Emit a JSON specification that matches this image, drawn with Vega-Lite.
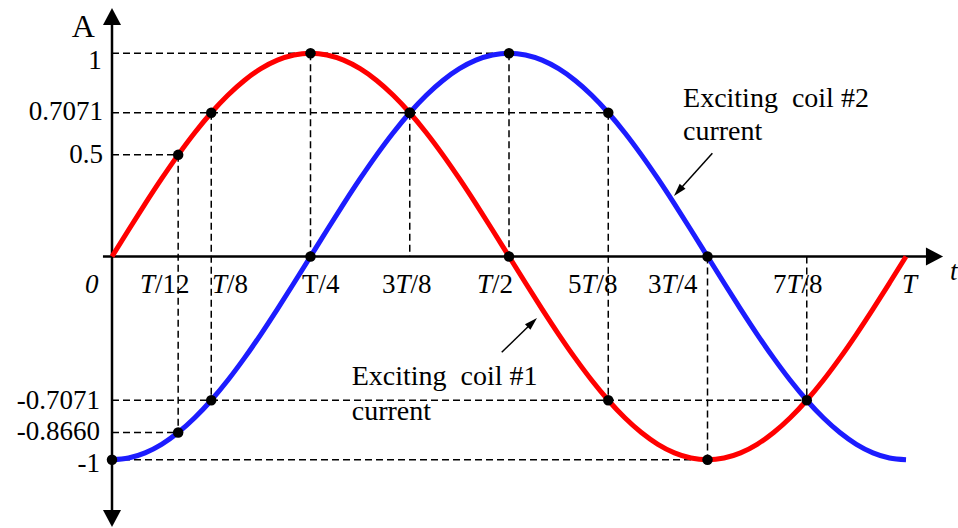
{
  "$schema": "https://vega.github.io/schema/vega-lite/v6.json",
  "width": 958,
  "height": 528,
  "autosize": {"type": "fit", "contains": "padding"},
  "padding": 0,
  "background": "white",
  "config": {"view": {"stroke": null}},
  "datasets": {
    "curves": [
      {"t": 0, "v": 0, "s": "coil1"}, {"t": 7.5, "v": 0.1305, "s": "coil1"}, {"t": 15, "v": 0.2588, "s": "coil1"}, {"t": 22.5, "v": 0.3827, "s": "coil1"},
      {"t": 30, "v": 0.5, "s": "coil1"}, {"t": 37.5, "v": 0.6088, "s": "coil1"}, {"t": 45, "v": 0.7071, "s": "coil1"}, {"t": 52.5, "v": 0.7934, "s": "coil1"},
      {"t": 60, "v": 0.866, "s": "coil1"}, {"t": 67.5, "v": 0.9239, "s": "coil1"}, {"t": 75, "v": 0.9659, "s": "coil1"}, {"t": 82.5, "v": 0.9914, "s": "coil1"},
      {"t": 90, "v": 1, "s": "coil1"}, {"t": 97.5, "v": 0.9914, "s": "coil1"}, {"t": 105, "v": 0.9659, "s": "coil1"}, {"t": 112.5, "v": 0.9239, "s": "coil1"},
      {"t": 120, "v": 0.866, "s": "coil1"}, {"t": 127.5, "v": 0.7934, "s": "coil1"}, {"t": 135, "v": 0.7071, "s": "coil1"}, {"t": 142.5, "v": 0.6088, "s": "coil1"},
      {"t": 150, "v": 0.5, "s": "coil1"}, {"t": 157.5, "v": 0.3827, "s": "coil1"}, {"t": 165, "v": 0.2588, "s": "coil1"}, {"t": 172.5, "v": 0.1305, "s": "coil1"},
      {"t": 180, "v": 0, "s": "coil1"}, {"t": 187.5, "v": -0.1305, "s": "coil1"}, {"t": 195, "v": -0.2588, "s": "coil1"}, {"t": 202.5, "v": -0.3827, "s": "coil1"},
      {"t": 210, "v": -0.5, "s": "coil1"}, {"t": 217.5, "v": -0.6088, "s": "coil1"}, {"t": 225, "v": -0.7071, "s": "coil1"}, {"t": 232.5, "v": -0.7934, "s": "coil1"},
      {"t": 240, "v": -0.866, "s": "coil1"}, {"t": 247.5, "v": -0.9239, "s": "coil1"}, {"t": 255, "v": -0.9659, "s": "coil1"}, {"t": 262.5, "v": -0.9914, "s": "coil1"},
      {"t": 270, "v": -1, "s": "coil1"}, {"t": 277.5, "v": -0.9914, "s": "coil1"}, {"t": 285, "v": -0.9659, "s": "coil1"}, {"t": 292.5, "v": -0.9239, "s": "coil1"},
      {"t": 300, "v": -0.866, "s": "coil1"}, {"t": 307.5, "v": -0.7934, "s": "coil1"}, {"t": 315, "v": -0.7071, "s": "coil1"}, {"t": 322.5, "v": -0.6088, "s": "coil1"},
      {"t": 330, "v": -0.5, "s": "coil1"}, {"t": 337.5, "v": -0.3827, "s": "coil1"}, {"t": 345, "v": -0.2588, "s": "coil1"}, {"t": 352.5, "v": -0.1305, "s": "coil1"},
      {"t": 360, "v": 0, "s": "coil1"},
      {"t": 0, "v": -1, "s": "coil2"}, {"t": 7.5, "v": -0.9914, "s": "coil2"}, {"t": 15, "v": -0.9659, "s": "coil2"}, {"t": 22.5, "v": -0.9239, "s": "coil2"},
      {"t": 30, "v": -0.866, "s": "coil2"}, {"t": 37.5, "v": -0.7934, "s": "coil2"}, {"t": 45, "v": -0.7071, "s": "coil2"}, {"t": 52.5, "v": -0.6088, "s": "coil2"},
      {"t": 60, "v": -0.5, "s": "coil2"}, {"t": 67.5, "v": -0.3827, "s": "coil2"}, {"t": 75, "v": -0.2588, "s": "coil2"}, {"t": 82.5, "v": -0.1305, "s": "coil2"},
      {"t": 90, "v": 0, "s": "coil2"}, {"t": 97.5, "v": 0.1305, "s": "coil2"}, {"t": 105, "v": 0.2588, "s": "coil2"}, {"t": 112.5, "v": 0.3827, "s": "coil2"},
      {"t": 120, "v": 0.5, "s": "coil2"}, {"t": 127.5, "v": 0.6088, "s": "coil2"}, {"t": 135, "v": 0.7071, "s": "coil2"}, {"t": 142.5, "v": 0.7934, "s": "coil2"},
      {"t": 150, "v": 0.866, "s": "coil2"}, {"t": 157.5, "v": 0.9239, "s": "coil2"}, {"t": 165, "v": 0.9659, "s": "coil2"}, {"t": 172.5, "v": 0.9914, "s": "coil2"},
      {"t": 180, "v": 1, "s": "coil2"}, {"t": 187.5, "v": 0.9914, "s": "coil2"}, {"t": 195, "v": 0.9659, "s": "coil2"}, {"t": 202.5, "v": 0.9239, "s": "coil2"},
      {"t": 210, "v": 0.866, "s": "coil2"}, {"t": 217.5, "v": 0.7934, "s": "coil2"}, {"t": 225, "v": 0.7071, "s": "coil2"}, {"t": 232.5, "v": 0.6088, "s": "coil2"},
      {"t": 240, "v": 0.5, "s": "coil2"}, {"t": 247.5, "v": 0.3827, "s": "coil2"}, {"t": 255, "v": 0.2588, "s": "coil2"}, {"t": 262.5, "v": 0.1305, "s": "coil2"},
      {"t": 270, "v": 0, "s": "coil2"}, {"t": 277.5, "v": -0.1305, "s": "coil2"}, {"t": 285, "v": -0.2588, "s": "coil2"}, {"t": 292.5, "v": -0.3827, "s": "coil2"},
      {"t": 300, "v": -0.5, "s": "coil2"}, {"t": 307.5, "v": -0.6088, "s": "coil2"}, {"t": 315, "v": -0.7071, "s": "coil2"}, {"t": 322.5, "v": -0.7934, "s": "coil2"},
      {"t": 330, "v": -0.866, "s": "coil2"}, {"t": 337.5, "v": -0.9239, "s": "coil2"}, {"t": 345, "v": -0.9659, "s": "coil2"}, {"t": 352.5, "v": -0.9914, "s": "coil2"},
      {"t": 360, "v": -1, "s": "coil2"}
    ],
    "dots": [
      {"t": 30, "v": 0.5}, {"t": 45, "v": 0.7071}, {"t": 90, "v": 1}, {"t": 135, "v": 0.7071}, {"t": 180, "v": 0},
      {"t": 225, "v": -0.7071}, {"t": 270, "v": -1}, {"t": 315, "v": -0.7071},
      {"t": 0, "v": -1}, {"t": 30, "v": -0.866}, {"t": 45, "v": -0.7071}, {"t": 90, "v": 0}, {"t": 135, "v": 0.7071},
      {"t": 180, "v": 1}, {"t": 225, "v": 0.7071}, {"t": 270, "v": 0}
    ],
    "hdash": [
      {"t": 0, "t2": 180, "v": 1}, {"t": 0, "t2": 225, "v": 0.7071}, {"t": 0, "t2": 30, "v": 0.5},
      {"t": 0, "t2": 315, "v": -0.7071}, {"t": 0, "t2": 30, "v": -0.866}, {"t": 0, "t2": 270, "v": -1}
    ],
    "vdash": [
      {"t": 30, "v": 0.5, "v2": -0.866}, {"t": 45, "v": 0.7071, "v2": -0.7071}, {"t": 90, "v": 1, "v2": 0},
      {"t": 135, "v": 0.7071, "v2": 0}, {"t": 180, "v": 1, "v2": 0}, {"t": 225, "v": 0.7071, "v2": -0.7071},
      {"t": 270, "v": 0, "v2": -1}, {"t": 315, "v": 0, "v2": -0.7071}
    ],
    "axes": [
      {"t": -4.1, "t2": 373.1, "v": 0, "v2": 0},
      {"t": 0, "t2": 0, "v": -1.286, "v2": 1.178}
    ],
    "pointers": [
      {"t": 272.2, "t2": 256.6, "v": 0.5076, "v2": 0.3198},
      {"t": 176.7, "t2": 190.7, "v": -0.4712, "v2": -0.3232}
    ],
    "ylabels": [
      {"text": "1", "t": -4.67, "v": 0.9208}, {"text": "0.7071", "t": -4.08, "v": 0.6714}, {"text": "0.5", "t": -4.08, "v": 0.4575},
      {"text": "-0.7071", "t": -5.44, "v": -0.7480}, {"text": "-0.8660", "t": -5.44, "v": -0.9020}, {"text": "-1", "t": -5.44, "v": -1.0576}
    ],
    "xroman": [
      {"text": "/12", "t": 19.5, "v": -0.1795}, {"text": "/8", "t": 52.1, "v": -0.1795}, {"text": "T/4", "t": 86.1, "v": -0.1795},
      {"text": "3", "t": 122.4, "v": -0.1795}, {"text": "/8", "t": 135.3, "v": -0.1795}, {"text": "/2", "t": 172.3, "v": -0.1795},
      {"text": "5", "t": 206.7, "v": -0.1795}, {"text": "/8", "t": 219.7, "v": -0.1795}, {"text": "3", "t": 243.0, "v": -0.1795},
      {"text": "/4", "t": 255.9, "v": -0.1795}, {"text": "7", "t": 299.7, "v": -0.1795}, {"text": "/8", "t": 312.6, "v": -0.1795}
    ],
    "xitalic": [
      {"text": "T", "t": 12.7, "v": -0.1795}, {"text": "T", "t": 45.3, "v": -0.1795}, {"text": "T", "t": 128.5, "v": -0.1795},
      {"text": "T", "t": 165.5, "v": -0.1795}, {"text": "T", "t": 212.9, "v": -0.1795}, {"text": "T", "t": 249.1, "v": -0.1795},
      {"text": "T", "t": 305.8, "v": -0.1795}, {"text": "T", "t": 358.2, "v": -0.1795}, {"text": "0", "t": -12.2, "v": -0.1795},
      {"text": "t", "t": 379.9, "v": -0.1156}
    ],
    "notes": [
      {"text": "Exciting\u00a0\u00a0coil #2", "t": 258.9, "v": 0.7368}, {"text": "current", "t": 258.9, "v": 0.5731},
      {"text": "Exciting\u00a0\u00a0coil #1", "t": 108.7, "v": -0.6321}, {"text": "current", "t": 108.7, "v": -0.8042}
    ]
  },
  "encoding": {
    "x": {"field": "t", "type": "quantitative", "scale": {"domain": [-50.78, 383.57], "nice": false, "zero": false}, "axis": null},
    "y": {"field": "v", "type": "quantitative", "scale": {"domain": [-1.3355, 1.2617], "nice": false, "zero": false}, "axis": null}
  },
  "layer": [
    {
      "data": {"name": "hdash"},
      "mark": {"type": "rule", "color": "black", "strokeWidth": 1.5, "strokeDash": [7, 4]},
      "encoding": {"x2": {"field": "t2"}}
    },
    {
      "data": {"name": "vdash"},
      "mark": {"type": "rule", "color": "black", "strokeWidth": 1.5, "strokeDash": [7, 4]},
      "encoding": {"y2": {"field": "v2"}}
    },
    {
      "data": {"name": "axes"},
      "mark": {"type": "rule", "color": "black", "strokeWidth": 2.5},
      "encoding": {"x2": {"field": "t2"}, "y2": {"field": "v2"}}
    },
    {
      "data": {"name": "pointers"},
      "mark": {"type": "rule", "color": "black", "strokeWidth": 1.5},
      "encoding": {"x2": {"field": "t2"}, "y2": {"field": "v2"}}
    },
    {
      "data": {"values": [{"t": 376.8, "v": 0}]},
      "mark": {"type": "point", "shape": "M0,0L-1,1.9L1,1.9Z", "size": 324, "angle": 90, "filled": true, "color": "black", "opacity": 1, "strokeWidth": 0}
    },
    {
      "data": {"values": [{"t": 0, "v": 1.2223}]},
      "mark": {"type": "point", "shape": "M0,0L-1,1.9L1,1.9Z", "size": 324, "angle": 0, "filled": true, "color": "black", "opacity": 1, "strokeWidth": 0}
    },
    {
      "data": {"values": [{"t": 0, "v": -1.3305}]},
      "mark": {"type": "point", "shape": "M0,0L-1,1.9L1,1.9Z", "size": 324, "angle": 180, "filled": true, "color": "black", "opacity": 1, "strokeWidth": 0}
    },
    {
      "data": {"values": [{"t": 254.8, "v": 0.2976}]},
      "mark": {"type": "point", "shape": "M0,0L-0.6,2L0.6,2Z", "size": 169, "angle": 221.5, "filled": true, "color": "black", "opacity": 1, "strokeWidth": 0}
    },
    {
      "data": {"values": [{"t": 192.7, "v": -0.3025}]},
      "mark": {"type": "point", "shape": "M0,0L-0.6,2L0.6,2Z", "size": 169, "angle": 45.8, "filled": true, "color": "black", "opacity": 1, "strokeWidth": 0}
    },
    {
      "data": {"name": "curves"},
      "mark": {"type": "line", "strokeWidth": 5, "interpolate": "monotone"},
      "encoding": {
        "color": {"field": "s", "type": "nominal", "scale": {"domain": ["coil1", "coil2"], "range": ["#ff0000", "#1c1cff"]}, "legend": null},
        "order": {"field": "t", "type": "quantitative"}
      }
    },
    {
      "data": {"name": "dots"},
      "mark": {"type": "point", "shape": "circle", "size": 110, "filled": true, "color": "black", "opacity": 1, "strokeWidth": 0}
    },
    {
      "data": {"name": "ylabels"},
      "mark": {"type": "text", "align": "right", "baseline": "alphabetic", "font": "Liberation Serif", "fontSize": 27, "color": "black"},
      "encoding": {"text": {"field": "text"}}
    },
    {
      "data": {"name": "xroman"},
      "mark": {"type": "text", "align": "left", "baseline": "alphabetic", "font": "Liberation Serif", "fontSize": 27, "color": "black"},
      "encoding": {"text": {"field": "text"}}
    },
    {
      "data": {"name": "xitalic"},
      "mark": {"type": "text", "align": "left", "baseline": "alphabetic", "font": "Liberation Serif", "fontStyle": "italic", "fontSize": 27, "color": "black"},
      "encoding": {"text": {"field": "text"}}
    },
    {
      "data": {"values": [{"text": "A", "t": -18.27, "v": 1.0812}]},
      "mark": {"type": "text", "align": "left", "baseline": "alphabetic", "font": "Liberation Serif", "fontSize": 32, "color": "black"},
      "encoding": {"text": {"field": "text"}}
    },
    {
      "data": {"name": "notes"},
      "mark": {"type": "text", "align": "left", "baseline": "alphabetic", "font": "Liberation Serif", "fontSize": 28, "color": "black"},
      "encoding": {"text": {"field": "text"}}
    }
  ]
}
